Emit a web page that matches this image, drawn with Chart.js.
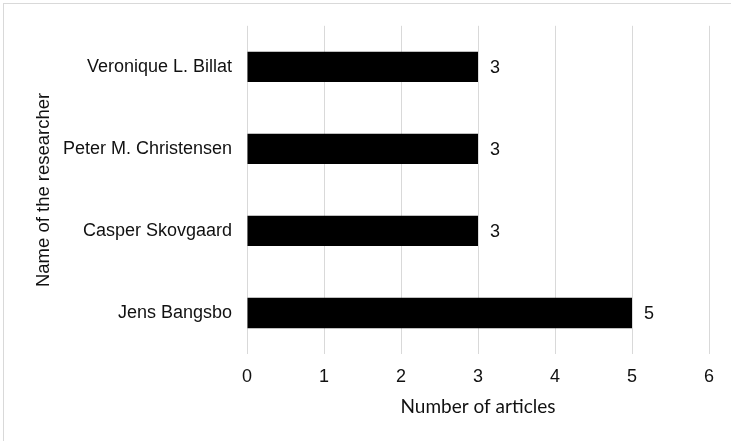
<!DOCTYPE html>
<html>
<head>
<meta charset="utf-8">
<script src="https://cdn.jsdelivr.net/npm/chart.js@4/dist/chart.umd.min.js"></script>
<style>
  html, body { margin: 0; padding: 0; background: #fff; overflow: hidden; }
  #wrap { position: relative; width: 731px; height: 441px; }
  #frame { position: absolute; left: 3px; top: 3px; width: 800px; height: 500px;
           border-top: 1px solid #d9d9d9; border-left: 1px solid #d9d9d9; pointer-events: none; }
  canvas { position: absolute; left: 0; top: 0; }
</style>
</head>
<body>
<div id="wrap">
  <canvas id="c" width="731" height="441"></canvas>
  <div id="frame"></div>
</div>
<script>
const categories = ['Veronique L. Billat', 'Peter M. Christensen', 'Casper Skovgaard', 'Jens Bangsbo'];
const articleCounts = [3, 3, 3, 5];
const xTickMin = 0;
const xTickMax = 6;
const xAxisTitle = 'Number of articles';
const yAxisTitle = 'Name of the researcher';

const valueLabels = {
  id: 'valueLabels',
  afterDatasetsDraw(chart) {
    const ctx = chart.ctx;
    ctx.save();
    ctx.font = '18px "Liberation Sans", Arial, sans-serif';
    ctx.fillStyle = '#111111';
    ctx.textAlign = 'left';
    ctx.textBaseline = 'middle';
    chart.getDatasetMeta(0).data.forEach((bar, i) => {
      ctx.fillText(String(chart.data.datasets[0].data[i]), bar.x + 12, bar.y + 1);
    });
    ctx.restore();
  }
};

new Chart(document.getElementById('c'), {
  type: 'bar',
  data: {
    labels: categories,
    datasets: [{
      data: articleCounts,
      backgroundColor: '#000000',
      borderWidth: 0,
      barPercentage: 0.37,
      categoryPercentage: 1.0
    }]
  },
  options: {
    indexAxis: 'y',
    responsive: false,
    devicePixelRatio: 1,
    animation: false,
    layout: { padding: { left: 0, right: 22, top: 25, bottom: 0 } },
    plugins: { legend: { display: false }, tooltip: { enabled: false } },
    scales: {
      x: {
        min: xTickMin,
        max: xTickMax,
        ticks: { stepSize: 1, padding: 12, color: '#111111',
                 font: { family: '"Liberation Sans", Arial, sans-serif', size: 18 } },
        grid: { color: '#d9d9d9', lineWidth: 1, drawTicks: false },
        border: { display: false },
        title: { display: true, text: xAxisTitle, color: '#111111',
                 font: { family: 'Lato, "Open Sans", sans-serif', size: 19 },
                 padding: { top: 0, bottom: 22.5 } },
        afterFit(s) { s.height = 87; }
      },
      y: {
        ticks: { padding: 15, color: '#111111',
                 font: { family: '"Liberation Sans", Arial, sans-serif', size: 18 } },
        grid: { display: false, drawTicks: false },
        border: { display: false },
        title: { display: true, text: yAxisTitle, color: '#111111',
                 font: { family: '"Liberation Sans", Arial, sans-serif', size: 18.5 },
                 padding: { top: 33, bottom: 0 } },
        afterFit(s) { s.width = 247; }
      }
    }
  },
  plugins: [valueLabels]
});
</script>
</body>
</html>
